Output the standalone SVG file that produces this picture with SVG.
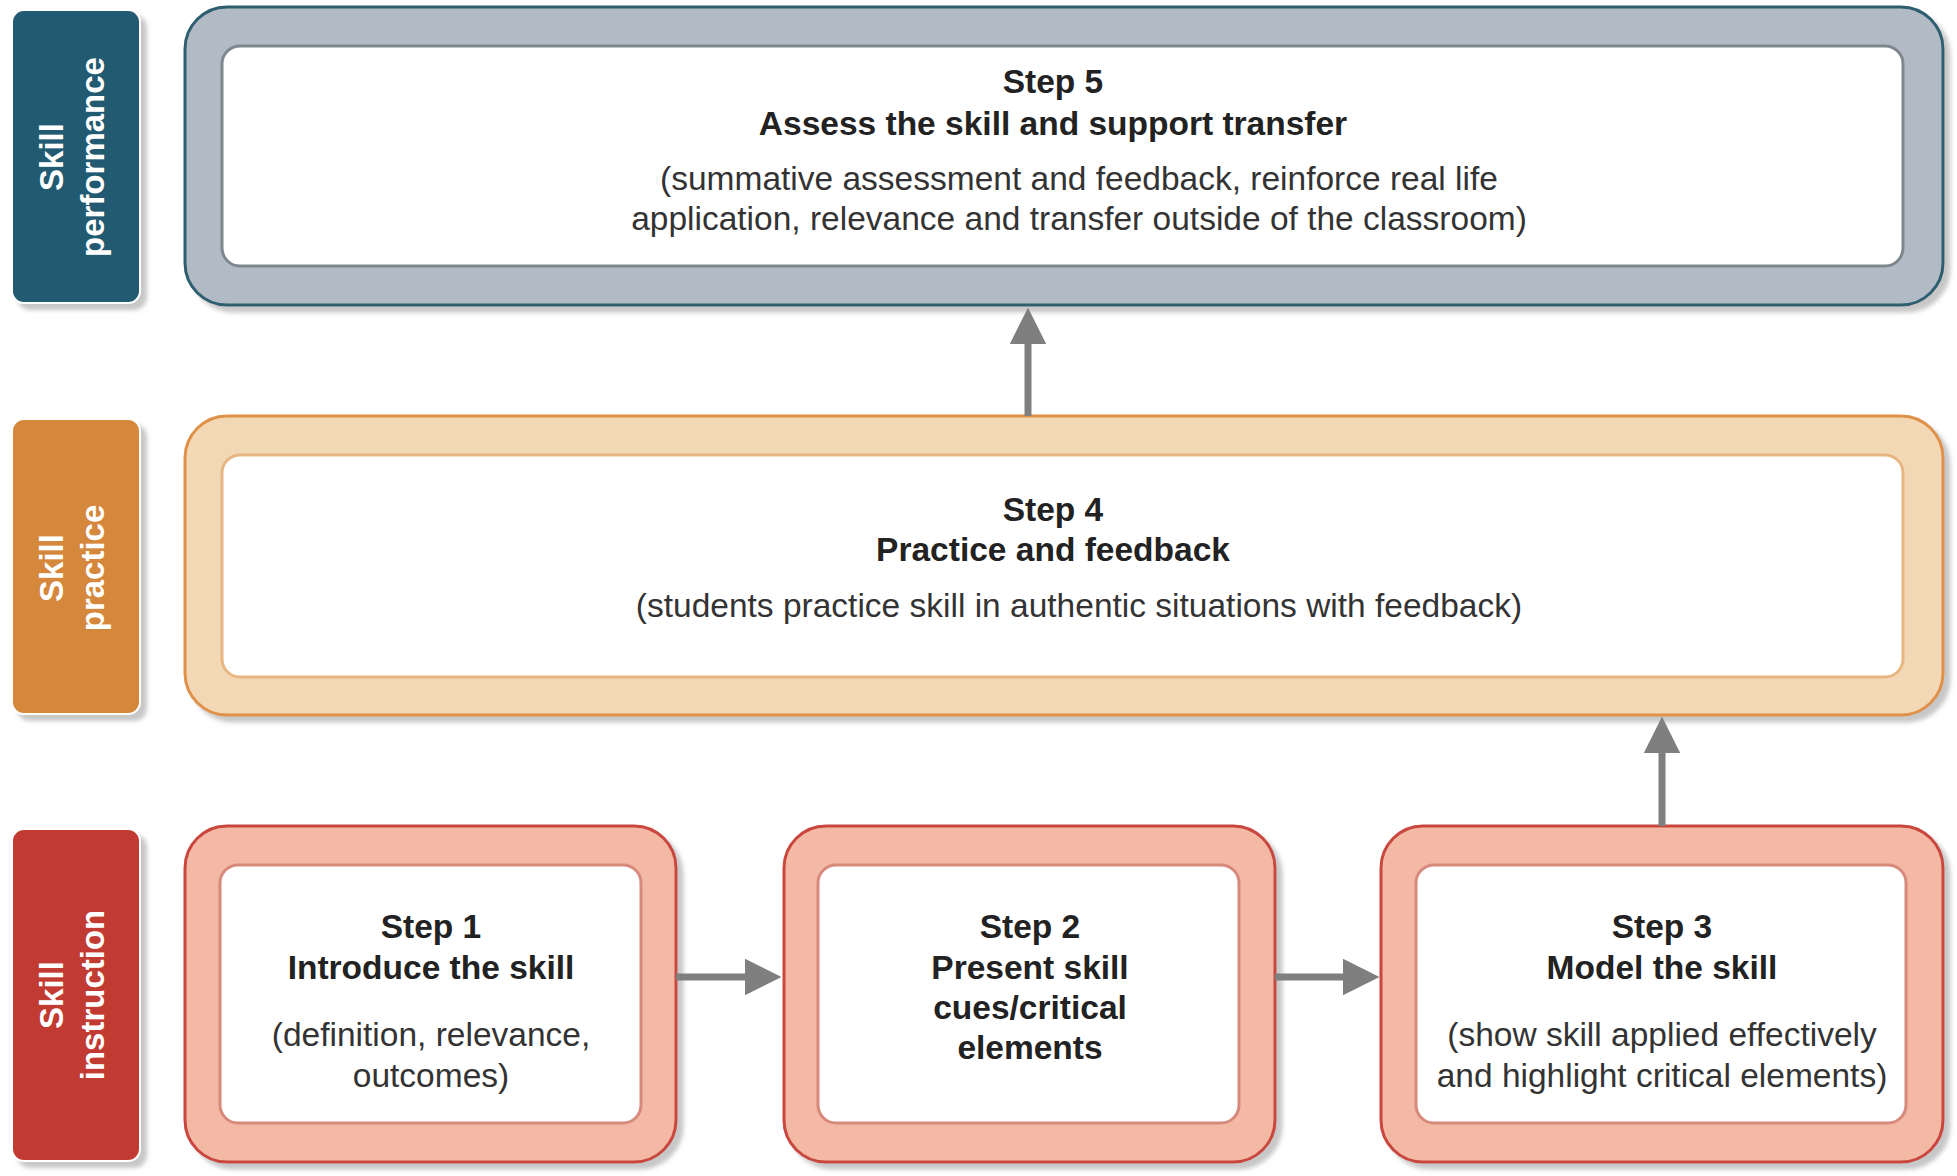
<svg xmlns="http://www.w3.org/2000/svg" width="1957" height="1176" viewBox="0 0 1957 1176">
<defs>
<filter id="sh" x="-10%" y="-10%" width="130%" height="130%">
<feDropShadow dx="6" dy="6" stdDeviation="2" flood-color="#9a9a9a" flood-opacity="0.55"/>
</filter>
<marker id="ah" viewBox="0 0 10 10" refX="0" refY="5" markerWidth="5.2" markerHeight="5.6" markerUnits="strokeWidth" orient="auto">
<path d="M0,0 L10,5 L0,10 Z" fill="#7f7f7f"/>
</marker>
</defs>
<style>
.lbl{font-family:"Liberation Sans",Arial,sans-serif;font-weight:bold;font-size:33px;fill:#ffffff;text-anchor:middle}
.t{font-family:"Liberation Sans",Arial,sans-serif;font-weight:bold;font-size:33.5px;fill:#222222;text-anchor:middle}
.s{font-family:"Liberation Sans",Arial,sans-serif;font-size:33.5px;fill:#333333;text-anchor:middle}
.perfL{fill:#235a72;stroke:#ffffff;stroke-width:2}
.pracL{fill:#d5873a;stroke:#ffffff;stroke-width:2}
.instL{fill:#c23b30;stroke:#ffffff;stroke-width:2}
.perfO{fill:#b2bbc5;stroke:#2f5f6f;stroke-width:3}
.pracO{fill:#f3d8b5;stroke:#e09148;stroke-width:3}
.instO{fill:#f3b9a4;stroke:#c9463e;stroke-width:3}
.perfI{fill:#ffffff;stroke:#7e868e;stroke-width:3}
.pracI{fill:#ffffff;stroke:#e7b683;stroke-width:3}
.instI{fill:#ffffff;stroke:#d7897c;stroke-width:3}
.conn{stroke:#7f7f7f;stroke-width:7;fill:none}
</style>
<rect width="1957" height="1176" fill="#ffffff"/>

<g id="label-performance">
<rect class="perfL" x="12" y="10" width="128" height="293" rx="12" filter="url(#sh)"/>
<text class="lbl" transform="translate(63,157) rotate(-90)" x="0" y="0">Skill</text>
<text class="lbl" transform="translate(104,157) rotate(-90)" x="0" y="0">performance</text>
</g>
<g id="label-practice">
<rect class="pracL" x="12" y="419" width="128" height="295" rx="12" filter="url(#sh)"/>
<text class="lbl" transform="translate(63,568) rotate(-90)" x="0" y="0">Skill</text>
<text class="lbl" transform="translate(104,568) rotate(-90)" x="0" y="0">practice</text>
</g>
<g id="label-instruction">
<rect class="instL" x="12" y="829" width="128" height="332" rx="12" filter="url(#sh)"/>
<text class="lbl" transform="translate(63,995) rotate(-90)" x="0" y="0">Skill</text>
<text class="lbl" transform="translate(104,995) rotate(-90)" x="0" y="0">instruction</text>
</g>

<g id="step5">
<rect class="perfO" x="185" y="7" width="1758" height="298" rx="42" filter="url(#sh)"/>
<rect class="perfI" x="222" y="46" width="1681" height="220" rx="18"/>
<text class="t" x="1053" y="93">Step 5</text>
<text class="t" x="1053" y="135">Assess the skill and support transfer</text>
<text class="s" x="1079" y="190">(summative assessment and feedback, reinforce real life</text>
<text class="s" x="1079" y="230">application, relevance and transfer outside of the classroom)</text>
</g>

<g id="step4">
<rect class="pracO" x="185" y="416" width="1758" height="299" rx="42" filter="url(#sh)"/>
<rect class="pracI" x="222" y="455" width="1681" height="222" rx="18"/>
<text class="t" x="1053" y="521">Step 4</text>
<text class="t" x="1053" y="561">Practice and feedback</text>
<text class="s" x="1079" y="617">(students practice skill in authentic situations with feedback)</text>
</g>

<g id="step1">
<rect class="instO" x="185" y="826" width="491" height="336" rx="42" filter="url(#sh)"/>
<rect class="instI" x="220" y="865" width="421" height="258" rx="18"/>
<text class="t" x="431" y="938">Step 1</text>
<text class="t" x="431" y="979">Introduce the skill</text>
<text class="s" x="431" y="1046">(definition, relevance,</text>
<text class="s" x="431" y="1087">outcomes)</text>
</g>

<g id="step2">
<rect class="instO" x="784" y="826" width="491" height="336" rx="42" filter="url(#sh)"/>
<rect class="instI" x="818" y="865" width="421" height="258" rx="18"/>
<text class="t" x="1030" y="938">Step 2</text>
<text class="t" x="1030" y="979">Present skill</text>
<text class="t" x="1030" y="1019">cues/critical</text>
<text class="t" x="1030" y="1059">elements</text>
</g>

<g id="step3">
<rect class="instO" x="1381" y="826" width="562" height="336" rx="42" filter="url(#sh)"/>
<rect class="instI" x="1416" y="865" width="490" height="258" rx="18"/>
<text class="t" x="1662" y="938">Step 3</text>
<text class="t" x="1662" y="979">Model the skill</text>
<text class="s" x="1662" y="1046">(show skill applied effectively</text>
<text class="s" x="1662" y="1087">and highlight critical elements)</text>
</g>

<g id="connectors">
<line class="conn" x1="676" y1="977" x2="745" y2="977" marker-end="url(#ah)"/>
<line class="conn" x1="1275" y1="977" x2="1343" y2="977" marker-end="url(#ah)"/>
<line class="conn" x1="1662" y1="826" x2="1662" y2="753" marker-end="url(#ah)"/>
<line class="conn" x1="1028" y1="416" x2="1028" y2="344" marker-end="url(#ah)"/>
</g>
</svg>
